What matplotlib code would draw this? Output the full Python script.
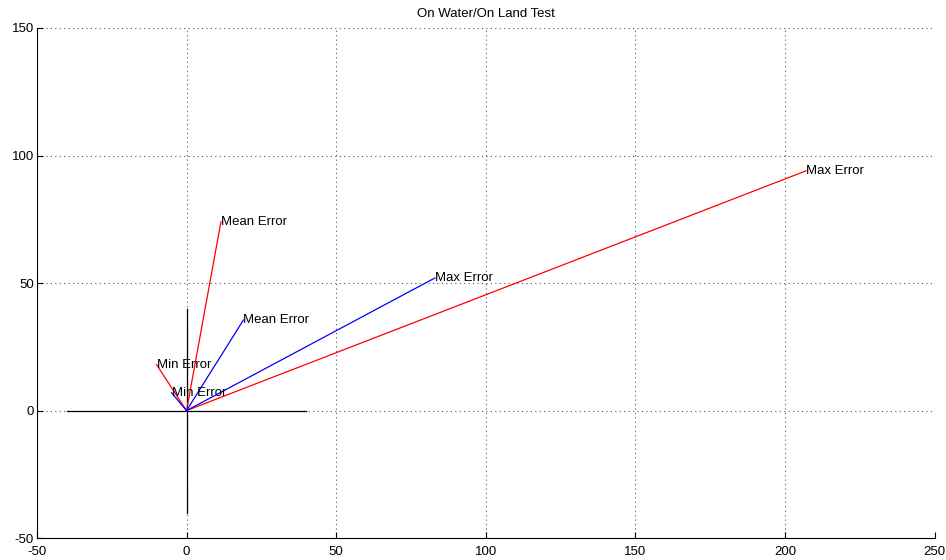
import matplotlib
matplotlib.use('Agg')
import matplotlib.pyplot as plt

plt.rcParams['font.family'] = ['Liberation Sans', 'DejaVu Sans']
plt.rcParams['axes.unicode_minus'] = False

# error vectors (x, y) for each test
water_x = [207, 11.5, -10]
water_y = [94, 74, 18]
land_x = [83, 19, -5]
land_y = [52, 35.5, 7]
labels = ['Max Error', 'Mean Error', 'Min Error']

cross = 40
xticks = [-50, 0, 50, 100, 150, 200, 250]
yticks = [-50, 0, 50, 100, 150]

fig = plt.figure(figsize=(9.46, 5.6), dpi=100)
ax = fig.add_axes([0.039, 0.039, 0.949, 0.911])

ax.plot([-cross, cross], [0, 0], color='black', lw=0.9)
ax.plot([0, 0], [-cross, cross], color='black', lw=0.9)

for x, y, lab in zip(water_x, water_y, labels):
    ax.plot([0, x], [0, y], color='red', lw=0.9)
    ax.text(x, y, lab, fontsize=9.5, ha='left', va='center')
for x, y, lab in zip(land_x, land_y, labels):
    ax.plot([0, x], [0, y], color='blue', lw=0.9)
    ax.text(x, y, lab, fontsize=9.5, ha='left', va='center')

ax.set_xlim(-50, 250)
ax.set_ylim(-50, 150)
ax.set_xticks(xticks)
ax.set_yticks(yticks)
ax.tick_params(direction='in', labelsize=9.5, length=4)
ax.tick_params(axis='x', pad=6)
ax.tick_params(axis='y', pad=2)
ax.grid(True, linestyle=(0, (1, 3)), color='#555555', lw=0.8)
ax.spines['top'].set_visible(False)
ax.spines['right'].set_visible(False)
ax.set_title('On Water/On Land Test', fontsize=9.5, pad=8)

fig.savefig('out.png', dpi=100)
